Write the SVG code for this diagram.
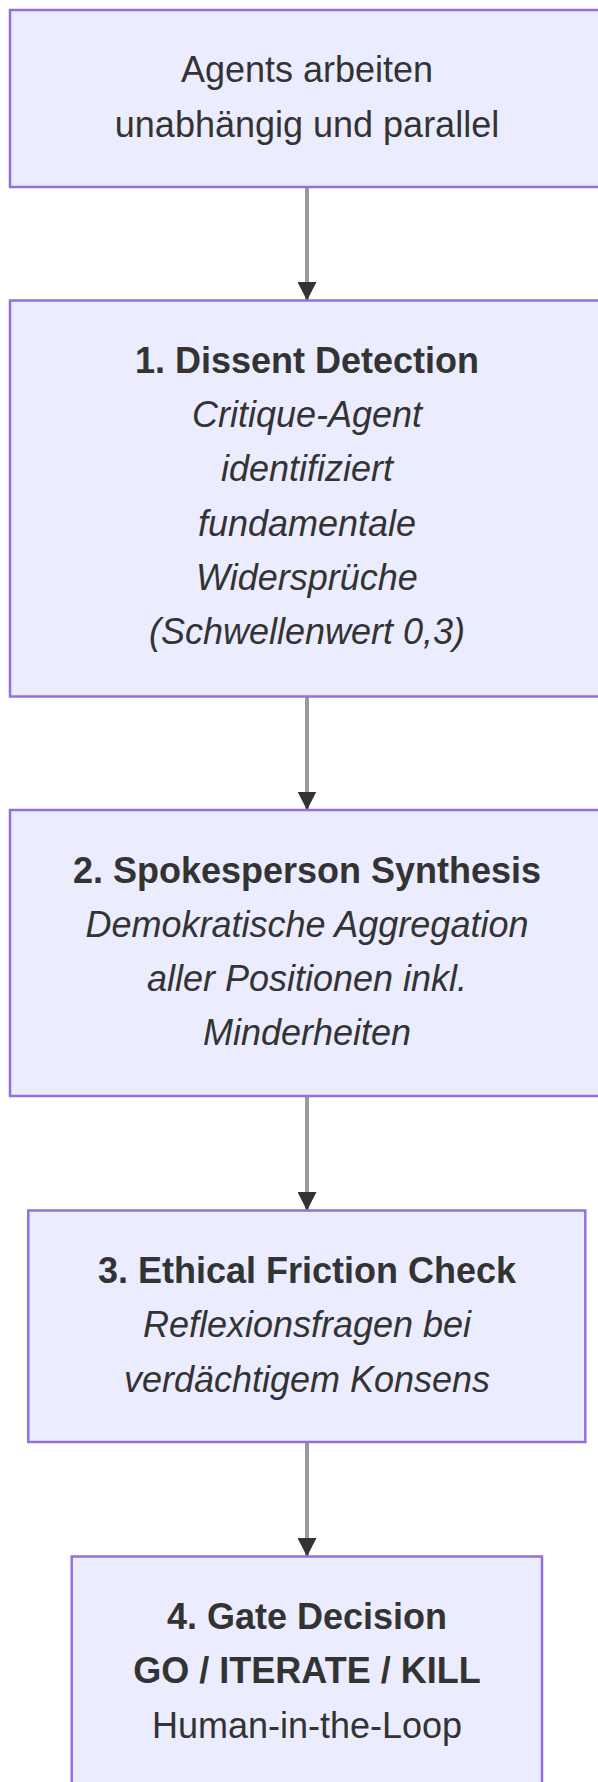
<svg xmlns="http://www.w3.org/2000/svg" width="598" height="1782" viewBox="0 0 598 1782">
  <style>
    .node rect { fill: #ECECFF; stroke: #9370DB; stroke-width: 2.5; }
    .node text { font-family: "Trebuchet MS", "Liberation Sans", Arial, sans-serif; font-size: 36px; fill: #333333; text-anchor: middle; }
    .node .b { font-weight: bold; }
    .node .i { font-style: italic; }
    .edge { stroke: #9a9a9a; stroke-width: 4; fill: none; }
  </style>
  <defs>
    <marker id="arrowhead" markerUnits="userSpaceOnUse" markerWidth="19" markerHeight="19" viewBox="0 0 19 19" refX="18.5" refY="9.5" orient="auto">
      <path d="M0,0 L18.5,9.5 L0,19 z" fill="#333333"/>
    </marker>
  </defs>

  <rect width="598" height="1782" fill="#ffffff"/>

  <!-- connectors -->
  <g id="connectors">
    <line class="edge" x1="307" y1="187" x2="307" y2="300.5" marker-end="url(#arrowhead)"/>
    <line class="edge" x1="307" y1="696.5" x2="307" y2="810" marker-end="url(#arrowhead)"/>
    <line class="edge" x1="307" y1="1096" x2="307" y2="1210.5" marker-end="url(#arrowhead)"/>
    <line class="edge" x1="307" y1="1442" x2="307" y2="1556.5" marker-end="url(#arrowhead)"/>
  </g>

  <!-- start: agents work in parallel -->
  <g id="start" class="node">
    <rect x="10" y="10" width="594" height="177"/>
    <text x="307" y="82.3">Agents arbeiten</text>
    <text x="307" y="136.6">unabhängig und parallel</text>
  </g>

  <!-- step 1 -->
  <g id="dissent" class="node">
    <rect x="10" y="300.5" width="594" height="396"/>
    <text x="307" y="372.8" class="b">1. Dissent Detection</text>
    <text x="307" y="427.1" class="i">Critique-Agent</text>
    <text x="307" y="481.4" class="i">identifiziert</text>
    <text x="307" y="535.7" class="i">fundamentale</text>
    <text x="307" y="590" class="i">Widersprüche</text>
    <text x="307" y="644.3" class="i">(Schwellenwert 0,3)</text>
  </g>

  <!-- step 2 -->
  <g id="spokesperson" class="node">
    <rect x="10" y="810" width="594" height="286"/>
    <text x="307" y="882.5" class="b">2. Spokesperson Synthesis</text>
    <text x="307" y="936.8" class="i">Demokratische Aggregation</text>
    <text x="307" y="991.1" class="i">aller Positionen inkl.</text>
    <text x="307" y="1045.4" class="i">Minderheiten</text>
  </g>

  <!-- step 3 -->
  <g id="friction" class="node">
    <rect x="28.3" y="1210.5" width="557" height="231.5"/>
    <text x="307" y="1283" class="b">3. Ethical Friction Check</text>
    <text x="307" y="1337.3" class="i">Reflexionsfragen bei</text>
    <text x="307" y="1391.6" class="i">verdächtigem Konsens</text>
  </g>

  <!-- step 4 -->
  <g id="gate" class="node">
    <rect x="71.7" y="1556.5" width="470.3" height="231.5"/>
    <text x="307" y="1628.5" class="b">4. Gate Decision</text>
    <text x="307" y="1682.8" class="b">GO / ITERATE / KILL</text>
    <text x="307" y="1737.6">Human-in-the-Loop</text>
  </g>
</svg>
